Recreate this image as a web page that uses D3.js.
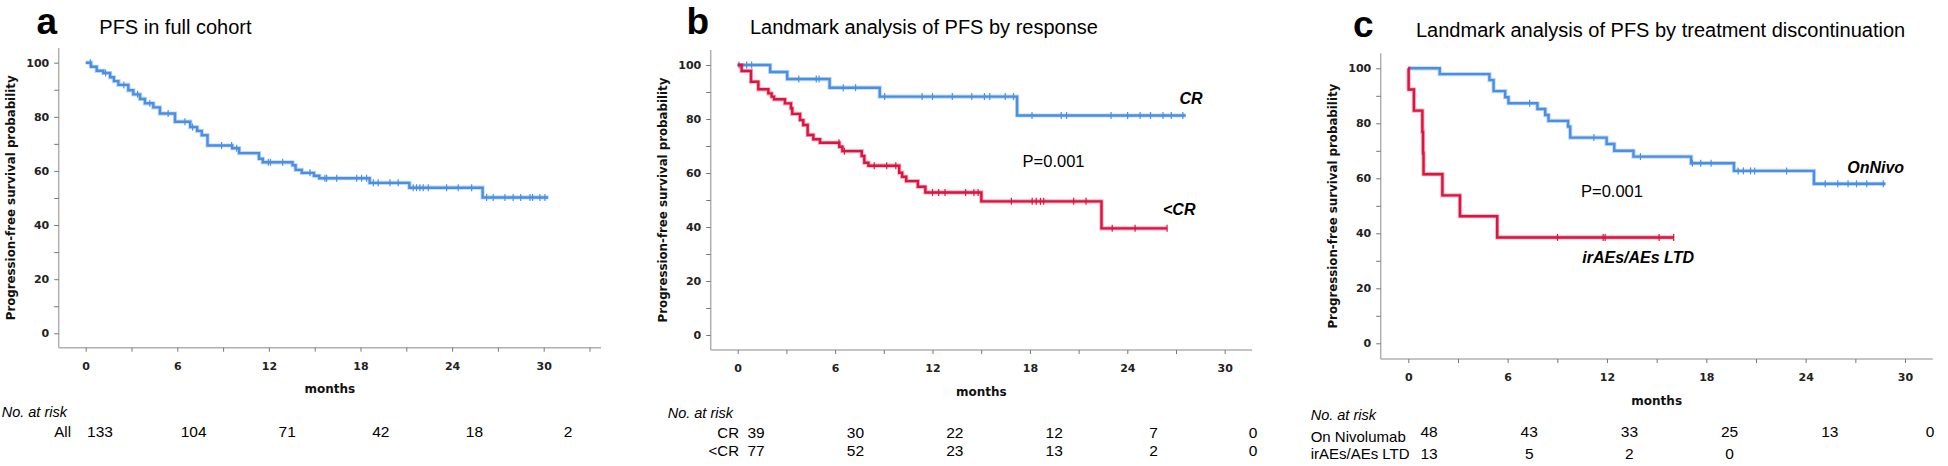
<!DOCTYPE html>
<html><head><meta charset="utf-8">
<script src="https://cdn.jsdelivr.net/npm/d3@7"></script>
<style>
html,body{margin:0;padding:0;background:#fff;}
svg{display:block;}
</style></head><body>
<svg id="chart" width="1948" height="466"></svg>
<script>
// ---------------- DATA ----------------
const xTickValuesLong = [0,3,6,9,12,15,18,21,24,27,30,33];
const xTickValuesShort = [0,3,6,9,12,15,18,21,24,27,30];
const yTickValues = [0,10,20,30,40,50,60,70,80,90,100];
const riskTimes = [0,6,12,18,24,30];

// Panel a: PFS in full cohort
const aTimes = [0,0.35,0.72,1.15,1.6,1.85,2.14,2.79,3.12,3.56,3.88,4.43,4.86,5.85,6.85,7.3,7.6,7.98,9.6,10.05,11.35,11.6,13.55,13.75,14.15,14.95,15.3,18.6,21.2,26.0];
const aSurv  = [100,98.5,97.0,96.2,94.6,93.2,91.8,89.8,88.3,86.6,85.0,83.5,81.2,78.2,76.2,74.8,73.2,69.4,68.4,66.6,64.5,63.2,62.1,60.4,59.3,58.2,57.3,55.6,53.8,50.2];
const aEnd = 30.3;
const aCensor = [0.3,1.3,2.5,3.4,4.2,5.4,6.5,7.0,8.9,9.56,9.89,11.96,12.1,12.9,14.69,15.67,15.78,16.44,17.75,18.07,18.4,18.84,19.16,19.93,20.47,21.45,21.67,21.89,22.11,22.44,23.64,24.4,25.28,26.26,26.69,27.46,28.0,28.49,29.1,29.27,29.75,30.08];
const aRiskAll = [133,104,71,42,18,2];

// Panel b: by response
const bCRTimes = [0,2.0,3.05,5.66,8.75,17.21];
const bCRSurv  = [100,97.4,94.8,91.6,88.3,81.3];
const bCREnd = 27.6;
const bCRCensor = [0.08,0.55,0.86,3.76,4.84,5.01,6.5,7.26,9.05,11.36,12.0,13.22,14.42,15.2,15.53,16.48,16.99,18.13,19.93,20.26,23.0,24.02,24.79,25.43,26.2,26.71,27.42];
const bLtTimes = [0,0.24,0.82,1.27,1.89,2.09,2.24,2.91,3.28,3.36,3.84,4.04,4.31,4.66,5.07,6.26,6.45,7.64,7.8,8.05,9.95,10.13,10.38,11.1,11.56,15.01,22.41];
const bLtSurv  = [100,97.8,93.8,91.0,89.5,88.3,87.3,85.8,84.0,81.9,79.6,77.8,74.1,72.5,71.2,69.7,68.1,66.3,63.8,62.7,60.1,58.6,57.0,54.9,52.8,49.5,39.5];
const bLtEnd = 26.45;
const bLtCensor = [6.24,6.57,8.41,9.18,9.74,12.0,12.38,12.77,14.04,14.55,14.81,16.86,18.14,18.39,18.65,18.85,20.7,21.46,23.07,24.48,26.45];
const bRiskCR = [39,30,22,12,7,0];
const bRiskLtCR = [77,52,23,13,2,0];

// Panel c: by treatment discontinuation
const cNivoTimes = [0,1.9,4.9,5.15,5.85,6.05,7.8,8.27,8.47,9.65,9.78,11.98,12.44,13.6,17.08,19.67,24.5];
const cNivoSurv  = [100,97.9,95.7,91.7,89.5,87.3,85.2,83.0,80.9,78.8,74.8,72.5,70.0,67.9,65.5,62.7,58.0];
const cNivoEnd = 28.82;
const cNivoCensor = [7.33,11.21,14.02,17.16,17.66,18.29,19.92,20.24,20.67,20.92,22.85,25.18,25.94,26.56,27.07,27.69,28.69];
const cLtdTimes = [0,0.02,0.34,0.85,0.89,0.92,2.06,3.12,5.37];
const cLtdSurv  = [100,92.3,84.6,76.9,69.2,61.5,53.8,46.2,38.5];
const cLtdEnd = 16.05;
const cLtdCensor = [9.01,11.77,11.89,15.15,16.03];
const cRiskNivo = [48,43,33,25,13,0];
const cRiskLtd = [13,5,2,0];

// ---------------- STYLE / LAYOUT ----------------
const BLUE = "#4a8fe6";
const RED = "#dc143f";
const SANS = "'Liberation Sans', Arial, sans-serif";
const AXFONT = "'DejaVu Sans', sans-serif";

const panels = [
  {label:"a", title:"PFS in full cohort", labelX:36.5, labelY:34.3, titleX:99.3, titleY:34.3,
   x0:85.7, x30:543.7, y0:333.3, y100:62.7, left:58.7, right:601, top:48, bottom:347.7,
   xTicks:xTickValuesLong,
   series:[{times:aTimes, surv:aSurv, end:aEnd, censor:aCensor, color:BLUE}],
   notes:[],
   riskHead:{x:1.7, y:417.3}, riskRange:[100,568],
   riskRows:[{name:"All", vals:aRiskAll, nameX:71, anchor:"end", nameY:436.7, valY:437.2}]},
  {label:"b", title:"Landmark analysis of PFS by response", labelX:686.5, labelY:34.3, titleX:750, titleY:34.3,
   x0:737.7, x30:1224.7, y0:335, y100:65, left:710.7, right:1252, top:50, bottom:350,
   xTicks:xTickValuesShort,
   series:[{times:bCRTimes, surv:bCRSurv, end:bCREnd, censor:bCRCensor, color:BLUE},
           {times:bLtTimes, surv:bLtSurv, end:bLtEnd, censor:bLtCensor, color:RED}],
   notes:[{text:"CR", x:27.22, y:85.6, bold:true},
          {text:"<CR", x:26.2, y:44.4, bold:true},
          {text:"P=0.001", x:17.55, y:62.3, bold:false}],
   riskHead:{x:667.7, y:418.3}, riskRange:[756,1253],
   riskRows:[{name:"CR", vals:bRiskCR, nameX:739, anchor:"end", nameY:437.7, valY:437.7},
             {name:"<CR", vals:bRiskLtCR, nameX:739, anchor:"end", nameY:455.7, valY:455.7}]},
  {label:"c", title:"Landmark analysis of PFS by treatment discontinuation", labelX:1353, labelY:36.5, titleX:1416, titleY:36.5,
   x0:1408.3, x30:1905, y0:343.3, y100:68.3, left:1380.7, right:1932.7, top:53.3, bottom:359,
   xTicks:xTickValuesShort,
   series:[{times:cNivoTimes, surv:cNivoSurv, end:cNivoEnd, censor:cNivoCensor, color:BLUE},
           {times:cLtdTimes, surv:cLtdSurv, end:cLtdEnd, censor:cLtdCensor, color:RED}],
   notes:[{text:"OnNivo", x:26.51, y:61.8, bold:true},
          {text:"irAEs/AEs LTD", x:10.51, y:29.1, bold:true},
          {text:"P=0.001", x:10.43, y:53.3, bold:false}],
   riskHead:{x:1310.7, y:420}, riskRange:[1429,1930],
   riskRows:[{name:"On Nivolumab", vals:cRiskNivo, nameX:1310.7, anchor:"start", nameY:441.7, valY:436.7},
             {name:"irAEs/AEs LTD", vals:cRiskLtd, nameX:1310.7, anchor:"start", nameY:459.3, valY:459.3}]}
];

const svg = d3.select("#chart");

panels.forEach(p => {
  const g = svg.append("g");
  const x = d3.scaleLinear().domain([0,30]).range([p.x0, p.x30]);
  const y = d3.scaleLinear().domain([0,100]).range([p.y0, p.y100]);

  // panel letter and title
  g.append("text").attr("x", p.labelX).attr("y", p.labelY)
    .attr("font-family", SANS).attr("font-weight", "bold").attr("font-size", 37)
    .attr("fill", "#000").text(p.label);
  g.append("text").attr("x", p.titleX).attr("y", p.titleY)
    .attr("font-family", SANS).attr("font-size", 20).attr("fill", "#000").text(p.title);

  // frame lines
  g.append("line").attr("x1", p.left).attr("x2", p.left).attr("y1", p.top).attr("y2", p.bottom)
    .attr("stroke", "#b0b0b0").attr("stroke-width", 1.5);
  g.append("line").attr("x1", p.left).attr("x2", p.right).attr("y1", p.bottom).attr("y2", p.bottom)
    .attr("stroke", "#b0b0b0").attr("stroke-width", 1.5);

  // y axis
  const yAxis = d3.axisLeft(y).tickValues(yTickValues)
    .tickFormat(d => d % 20 === 0 ? d : "").tickSizeInner(4.5).tickSizeOuter(0).tickPadding(5);
  const ya = g.append("g").attr("transform", `translate(${p.left},0)`).call(yAxis);
  ya.select(".domain").remove();
  ya.selectAll(".tick line").attr("stroke", "#777").attr("stroke-width", 1);
  ya.selectAll(".tick text").attr("font-family", AXFONT).attr("font-weight", "bold")
    .attr("font-size", 11).attr("fill", "#222");

  // x axis
  const xAxis = d3.axisBottom(x).tickValues(p.xTicks)
    .tickFormat(d => d % 6 === 0 ? d : "").tickSizeInner(4).tickSizeOuter(0).tickPadding(10.2);
  const xa = g.append("g").attr("transform", `translate(0,${p.bottom})`).call(xAxis);
  xa.select(".domain").remove();
  xa.selectAll(".tick line").attr("stroke", "#777").attr("stroke-width", 1);
  xa.selectAll(".tick text").attr("font-family", AXFONT).attr("font-weight", "bold")
    .attr("font-size", 11).attr("fill", "#222");

  // axis titles
  g.append("text").attr("x", (p.left + p.right) / 2).attr("y", p.bottom + 45.5)
    .attr("text-anchor", "middle").attr("font-family", AXFONT).attr("font-weight", "bold")
    .attr("font-size", 12).attr("fill", "#111").text("months");
  g.append("text")
    .attr("transform", `translate(${p.left - 44},${(p.top + p.bottom) / 2}) rotate(-90)`)
    .attr("text-anchor", "middle").attr("font-family", AXFONT).attr("font-weight", "bold")
    .attr("font-size", 11.8).attr("fill", "#111").text("Progression-free survival probability");

  // curves
  const line = d3.line().x(d => x(d[0])).y(d => y(d[1])).curve(d3.curveStepAfter);
  p.series.forEach(s => {
    const pts = s.times.map((t, i) => [t, s.surv[i]]);
    pts.push([s.end, s.surv[s.surv.length - 1]]);
    g.append("path").attr("d", line(pts)).attr("fill", "none")
      .attr("stroke", s.color).attr("stroke-opacity", 0.35).attr("stroke-width", 4.2);
    g.append("path").attr("d", line(pts)).attr("fill", "none")
      .attr("stroke", s.color).attr("stroke-width", 2.4);
    const survAt = t => { let v = s.surv[0]; s.times.forEach((tt, i) => { if (tt <= t) v = s.surv[i]; }); return v; };
    g.selectAll(null).data(s.censor).enter().append("line")
      .attr("x1", d => x(d)).attr("x2", d => x(d))
      .attr("y1", d => y(survAt(d)) - 3.5).attr("y2", d => y(survAt(d)) + 3.5)
      .attr("stroke", s.color).attr("stroke-width", 1.2);
  });

  // notes
  p.notes.forEach(n => {
    g.append("text").attr("x", x(n.x)).attr("y", y(n.y))
      .attr("font-family", SANS).attr("font-size", n.bold ? 16 : 16.5)
      .attr("font-weight", n.bold ? "bold" : "normal")
      .attr("font-style", n.bold ? "italic" : "normal")
      .attr("fill", "#000").text(n.text);
  });

  // risk table
  const rx = d3.scaleLinear().domain([0,30]).range(p.riskRange);
  g.append("text").attr("x", p.riskHead.x).attr("y", p.riskHead.y)
    .attr("font-family", SANS).attr("font-style", "italic").attr("font-size", 14.5)
    .attr("fill", "#000").text("No. at risk");
  p.riskRows.forEach(r => {
    g.append("text").attr("x", r.nameX).attr("y", r.nameY).attr("text-anchor", r.anchor)
      .attr("font-family", SANS).attr("font-size", 15).attr("fill", "#000").text(r.name);
    g.selectAll(null).data(r.vals).enter().append("text")
      .attr("x", (d, i) => rx(riskTimes[i])).attr("y", r.valY)
      .attr("text-anchor", "middle").attr("font-family", SANS).attr("font-size", 15.5)
      .attr("fill", "#000").text(d => d);
  });
});
</script>
</body></html>
